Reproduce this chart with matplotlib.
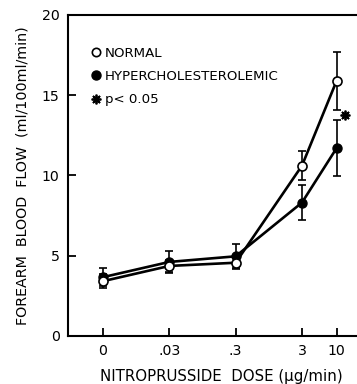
import matplotlib
matplotlib.use("Agg")
import matplotlib.pyplot as plt
from matplotlib.lines import Line2D
import numpy as np

plt.rcParams['font.family'] = ['DejaVu Sans']

dose_labels = ["0", ".03", ".3", "3", "10"]
# position along a log-dose axis (decades), with 0 placed one decade below .03
dose_pos = [0, 1, 2, 3, 3 + np.log10(10 / 3)]

normal_mean = [3.4, 4.35, 4.55, 10.6, 15.9]
normal_sem = [0.45, 0.4, 0.4, 0.9, 1.8]
hyper_mean = [3.65, 4.6, 4.95, 8.3, 11.7]
hyper_sem = [0.55, 0.7, 0.75, 1.1, 1.75]

sig_pos = dose_pos[4]
sig_y = 13.75

fig = plt.figure(figsize=(3.57, 3.84), dpi=100)
ax = fig.add_axes([0.1905, 0.1258, 0.8095, 0.8352])

ax.errorbar(dose_pos, hyper_mean, yerr=hyper_sem, color='black', lw=1.9,
            marker='o', ms=6.5, mfc='black', mec='black', ecolor='black',
            elinewidth=1.2, capsize=3.2, capthick=1.2, zorder=3)
ax.errorbar(dose_pos, normal_mean, yerr=normal_sem, color='black', lw=1.9,
            marker='o', ms=6.5, mfc='white', mec='black', mew=1.2, ecolor='black',
            elinewidth=1.2, capsize=3.2, capthick=1.2, zorder=4)
ax.plot([sig_pos + 0.12], [sig_y], marker=(8, 2, 0), ms=7, mew=1.3, color='black',
        ls='none')

ax.set_xlim(-0.528, 3.83)
ax.set_ylim(0, 20)
ax.set_yticks([0, 5, 10, 15, 20])
ax.set_xticks(dose_pos)
ax.set_xticklabels(dose_labels)
ax.tick_params(direction='in', length=6, width=1.3, labelsize=10.2, pad=6)
for s in ['left', 'bottom', 'top']:
    ax.spines[s].set_linewidth(1.5)
ax.spines['right'].set_visible(False)

ax.set_xlabel("NITROPRUSSIDE  DOSE (μg/min)", fontsize=10.8)
ax.xaxis.set_label_coords(0.53, -0.105)
ax.set_ylabel("FOREARM  BLOOD  FLOW  (ml/100ml/min)", fontsize=10.3, labelpad=9)

handles = [
    Line2D([], [], ls='none', marker='o', ms=6, mfc='white', mec='black', mew=1.2),
    Line2D([], [], ls='none', marker='o', ms=6.5, mfc='black', mec='black'),
    Line2D([], [], ls='none', marker=(8, 2, 0), ms=7, mew=1.3, color='black'),
]
ax.legend(handles, ["NORMAL", "HYPERCHOLESTEROLEMIC", "p< 0.05"],
          loc='upper left', bbox_to_anchor=(0.065, 0.918), frameon=False,
          fontsize=9.6, handlelength=0.6, handletextpad=0.35, labelspacing=0.78,
          borderaxespad=0)

fig.savefig("out.png", dpi=100)
